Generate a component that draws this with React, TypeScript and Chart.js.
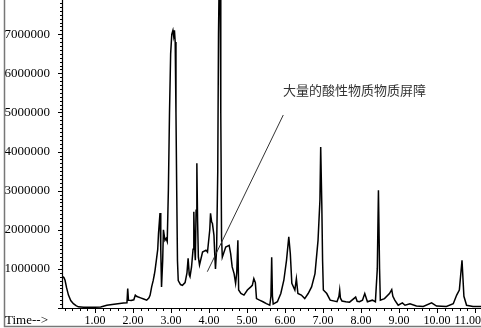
import React, { useEffect, useRef } from "react";
import { Chart, registerables } from "chart.js";

Chart.register(...registerables);

// Retention time (min)
const TIME = [
  0.13, 0.15, 0.18, 0.21, 0.25, 0.3, 0.36, 0.43, 0.5, 0.56, 0.7, 0.85, 1.0, 1.15, 1.31, 1.45, 1.6, 1.75,
  1.84, 1.86, 1.88, 1.95, 2.02, 2.06, 2.09, 2.14, 2.2, 2.28, 2.36, 2.42, 2.45, 2.49, 2.53, 2.56, 2.58,
  2.62, 2.65, 2.67, 2.71, 2.73, 2.75, 2.78, 2.8, 2.84, 2.87, 2.9, 2.93, 2.96, 2.99, 3.02, 3.05, 3.07,
  3.09, 3.11, 3.13, 3.15, 3.17, 3.19, 3.25, 3.3, 3.37, 3.42, 3.45, 3.48, 3.5, 3.54, 3.58, 3.6, 3.62,
  3.64, 3.66, 3.68, 3.7, 3.72, 3.75, 3.83, 3.92, 3.96, 4.02, 4.04, 4.07, 4.09, 4.13, 4.15, 4.17, 4.2,
  4.23, 4.25, 4.27, 4.29, 4.31, 4.33, 4.35, 4.44, 4.53, 4.57, 4.61, 4.66, 4.7, 4.73, 4.76, 4.78, 4.84,
  4.92, 5.01, 5.1, 5.14, 5.18, 5.22, 5.25, 5.33, 5.42, 5.51, 5.6, 5.63, 5.65, 5.67, 5.69, 5.8, 5.89,
  5.97, 6.04, 6.1, 6.14, 6.18, 6.26, 6.3, 6.34, 6.43, 6.52, 6.61, 6.7, 6.79, 6.87, 6.92, 6.94, 6.97,
  6.99, 7.01, 7.1, 7.19, 7.37, 7.42, 7.44, 7.46, 7.5, 7.6, 7.7, 7.86, 7.9, 7.96, 8.04, 8.1, 8.17, 8.3,
  8.38, 8.43, 8.46, 8.49, 8.51, 8.62, 8.75, 8.81, 8.84, 8.89, 8.98, 9.09, 9.16, 9.29, 9.46, 9.64, 9.86,
  9.99, 10.25, 10.43, 10.52, 10.59, 10.66, 10.71, 10.78, 10.95, 11.16,
];

// Abundance
const ABUNDANCE = [
  780000, 800000, 780000, 710000, 520000, 330000, 190000, 110000, 60000, 30000, 20000, 20000, 20000,
  25000, 70000, 90000, 110000, 125000, 135000, 500000, 200000, 190000, 210000, 330000, 300000, 280000,
  260000, 230000, 200000, 260000, 330000, 540000, 700000, 850000, 970000, 1270000, 1500000, 1900000,
  2430000, 1500000, 540000, 1200000, 2000000, 1730000, 1780000, 1700000, 3000000, 5000000, 6500000,
  7000000, 7100000, 6950000, 7100000, 6800000, 5000000, 3000000, 1200000, 700000, 600000, 580000,
  650000, 900000, 1270000, 850000, 800000, 1050000, 1500000, 2460000, 1600000, 1220000, 2500000,
  3700000, 2200000, 1300000, 1100000, 1430000, 1480000, 1430000, 2000000, 2420000, 2200000, 2160000,
  1860000, 1400000, 1000000, 1500000, 3500000, 7000000, 8600000, 8600000, 5000000, 1800000, 1300000,
  1560000, 1600000, 1390000, 1050000, 880000, 630000, 900000, 1730000, 460000, 370000, 330000, 460000,
  540000, 580000, 750000, 650000, 240000, 200000, 160000, 110000, 70000, 300000, 1300000, 300000,
  100000, 160000, 370000, 710000, 1220000, 1820000, 1390000, 630000, 460000, 750000, 370000, 330000,
  240000, 370000, 540000, 880000, 1730000, 2760000, 4120000, 2600000, 1200000, 460000, 370000, 200000,
  160000, 300000, 460000, 250000, 180000, 160000, 150000, 280000, 170000, 160000, 200000, 370000,
  160000, 200000, 160000, 1000000, 3010000, 1000000, 200000, 240000, 370000, 470000, 300000, 200000,
  70000, 130000, 70000, 110000, 50000, 40000, 130000, 50000, 40000, 110000, 330000, 460000, 1220000,
  300000, 70000, 40000, 40000,
];

const X_TICKS = [1, 2, 3, 4, 5, 6, 7, 8, 9, 10, 11];
const X_TICK_LABELS = ["1.00", "2.00", "3.00", "4.00", "5.00", "6.00", "7.00", "8.00", "9.00", "10.00", "11.00"];
const X_AXIS_TITLE = "Time-->";
const Y_TICKS = [1000000, 2000000, 3000000, 4000000, 5000000, 6000000, 7000000];

const NOTE_TEXT = "大量的酸性物质物质屏障";
const NOTE_TEXT_AT = [5.95, 5575000];
const NOTE_LINE_X = [5.955, 3.955];
const NOTE_LINE_Y = [4936000, 928000];

const X_MIN = 0.13;
const X_MAX = 11.16;
const Y_MAX = 7877000;

const decorPlugin = {
  id: "decor",
  afterDatasetsDraw(chart: any) {
    const { ctx, chartArea: a, scales } = chart;
    const x = scales.x;
    const y = scales.y;
    ctx.save();

    // frame lines
    ctx.strokeStyle = "#777";
    ctx.lineWidth = 1.5;
    ctx.beginPath();
    ctx.moveTo(4.5, 0);
    ctx.lineTo(4.5, 326.5);
    ctx.lineTo(chart.width, 326.5);
    ctx.stroke();

    // axes
    ctx.strokeStyle = "#000";
    ctx.lineWidth = 1.2;
    ctx.beginPath();
    ctx.moveTo(a.left + 0.5, 0);
    ctx.lineTo(a.left + 0.5, a.bottom + 0.5);
    ctx.lineTo(a.right, a.bottom + 0.5);
    ctx.stroke();

    // y ticks
    ctx.lineWidth = 1;
    ctx.beginPath();
    for (let i = 0; i * 100000 <= Y_MAX; i++) {
      const py = Math.round(y.getPixelForValue(i * 100000)) + 0.5;
      const len = i % 10 === 0 ? 4 : 2;
      ctx.moveTo(a.left, py);
      ctx.lineTo(a.left - len, py);
    }
    // x ticks
    for (let i = 1; i * 0.2 <= X_MAX; i++) {
      const t = i * 0.2;
      if (t < X_MIN) continue;
      const px = Math.round(x.getPixelForValue(t)) + 0.5;
      const len = i % 5 === 0 ? 5 : 3;
      ctx.moveTo(px, a.bottom);
      ctx.lineTo(px, a.bottom + len);
    }
    ctx.stroke();

    // x labels
    ctx.fillStyle = "#000";
    ctx.font = "12px 'Liberation Serif'";
    ctx.textBaseline = "middle";
    ctx.textAlign = "center";
    X_TICKS.forEach((t, i) => {
      const label = X_TICK_LABELS[i];
      const w = ctx.measureText(label).width;
      const px = Math.min(x.getPixelForValue(t), chart.width - w / 2);
      ctx.fillText(label, px, a.bottom + 13);
    });
    ctx.font = "13px 'Liberation Serif'";
    ctx.textAlign = "left";
    ctx.fillText(X_AXIS_TITLE, 5, a.bottom + 13);

    // annotation
    ctx.strokeStyle = "#333";
    ctx.lineWidth = 1;
    ctx.beginPath();
    ctx.moveTo(x.getPixelForValue(NOTE_LINE_X[0]), y.getPixelForValue(NOTE_LINE_Y[0]));
    ctx.lineTo(x.getPixelForValue(NOTE_LINE_X[1]), y.getPixelForValue(NOTE_LINE_Y[1]));
    ctx.stroke();
    ctx.fillStyle = "#333";
    ctx.font = "13px 'Noto Sans CJK SC'";
    ctx.textAlign = "left";
    ctx.textBaseline = "middle";
    ctx.fillText(NOTE_TEXT, x.getPixelForValue(NOTE_TEXT_AT[0]), y.getPixelForValue(NOTE_TEXT_AT[1]));

    ctx.restore();
  },
};

export default function App() {
  const canvasRef = useRef<HTMLCanvasElement | null>(null);

  useEffect(() => {
    if (!canvasRef.current) return;
    const chart = new Chart(canvasRef.current, {
      type: "line",
      data: {
        datasets: [
          {
            data: TIME.map((t, i) => ({ x: t, y: ABUNDANCE[i] })),
            borderColor: "#000",
            borderWidth: 1.5,
            pointRadius: 0,
            tension: 0,
            fill: false,
          },
        ],
      },
      options: {
        animation: false,
        responsive: false,
        maintainAspectRatio: false,
        layout: { padding: 0 },
        plugins: { legend: { display: false }, tooltip: { enabled: false } },
        scales: {
          x: {
            type: "linear",
            min: X_MIN,
            max: X_MAX,
            grid: { display: false },
            border: { display: false },
            ticks: { display: false },
            afterFit: (s: any) => {
              s.height = 20;
            },
          },
          y: {
            type: "linear",
            min: 0,
            max: Y_MAX,
            grid: { display: false },
            border: { display: false },
            afterBuildTicks: (s: any) => {
              s.ticks = Y_TICKS.map((v) => ({ value: v }));
            },
            ticks: {
              padding: 4,
              color: "#000",
              font: { family: "'Liberation Serif'", size: 13 },
              callback: (v: any) => String(v),
            },
            afterFit: (s: any) => {
              s.width = 62;
              s.paddingTop = 0;
              s.paddingBottom = 0;
            },
          },
        },
      },
      plugins: [decorPlugin],
    });
    return () => chart.destroy();
  }, []);

  return (
    <div style={{ position: "fixed", left: 0, top: 0, width: 481, height: 328, background: "#fff" }}>
      <canvas ref={canvasRef} width={481} height={328} style={{ display: "block" }} />
    </div>
  );
}
